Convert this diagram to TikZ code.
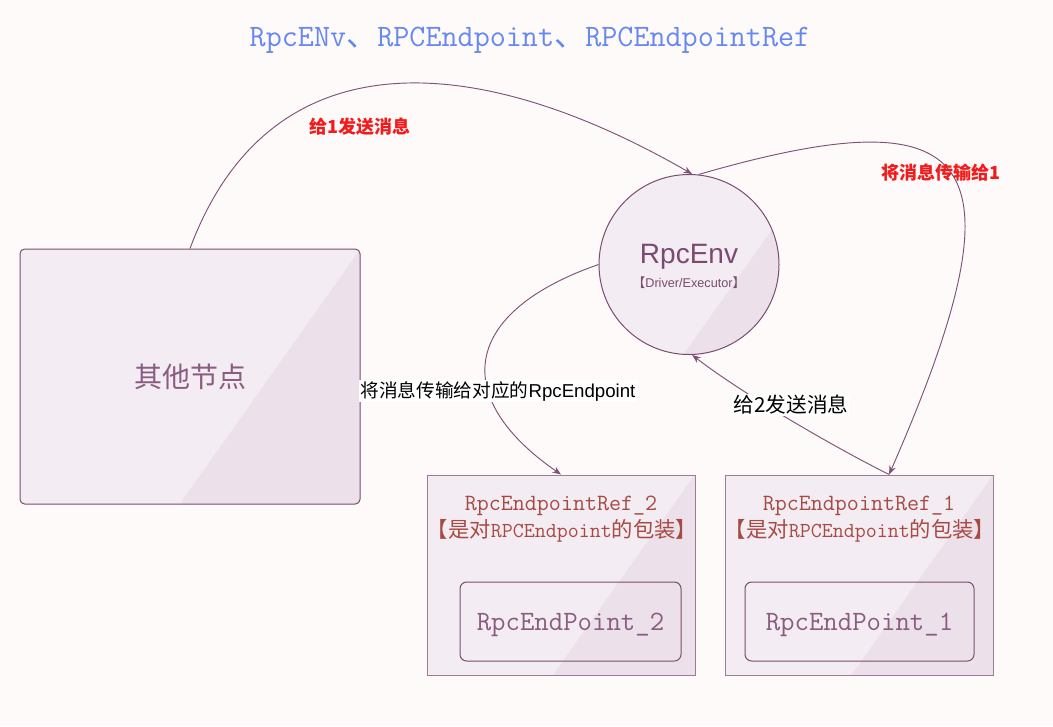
\documentclass[tikz,border=0pt]{standalone}
\usepackage{fontspec}
\newfontfamily\cjk{Noto Sans CJK SC}
\newfontfamily\arial{Liberation Sans}
\usetikzlibrary{calc}
\usetikzlibrary{arrows, arrows.meta}
\definecolor{bgcol}{HTML}{FEFAFA}
\definecolor{fillA}{HTML}{F3ECF2}
\definecolor{fillB}{HTML}{ECE1EA}
\definecolor{linecol}{HTML}{7A4C70}
\definecolor{reflinecol}{HTML}{9E7A96}
\definecolor{edgecol}{HTML}{7E5276}
\definecolor{nodetxt}{HTML}{8A5C80}
\definecolor{envtxt}{HTML}{7B4A70}
\definecolor{refred}{HTML}{A84A44}
\definecolor{labred}{HTML}{F21A1A}
\definecolor{titleblue}{HTML}{6688F2}

\begin{document}
\begin{tikzpicture}[x=0.75pt, y=-0.75pt,
    box/.style={draw=linecol, line width=0.75pt, fill=fillA,
        path picture={\fill[fillB] ($(path picture bounding box.south west)!0.47!(path picture bounding box.south east)$)
            -- ++(54.7:900pt) -- ++(900pt,0pt) -- ++(0pt,-1800pt) -- cycle;}},
    epbox/.style={draw=linecol, line width=0.75pt, rounded corners=5pt, minimum height=59.25pt,
        text depth=0pt, text=nodetxt, font=\ttfamily\fontsize{21pt}{24pt}\selectfont},
    edge/.style={draw=edgecol, line width=0.7pt, -{Stealth[length=6.5pt,width=5pt]}},
    redlab/.style={text=labred, font=\cjk\bfseries\fontsize{13.5pt}{16pt}\selectfont},
    blacklab/.style={fill=white, inner sep=1pt, text=black},
    reftxt/.style={text=refred, font=\ttfamily\fontsize{17.5pt}{20pt}\selectfont},
    refnote/.style={text=refred, font=\ttfamily\fontsize{16pt}{18pt}\selectfont}]
    % Background
    \fill[bgcol] (0,0) rectangle (1053,726);
    \useasboundingbox (0,0) rectangle (1053,726);
    % Title
    \node[text=titleblue, font=\ttfamily\fontsize{23.4pt}{27pt}\selectfont] (title) at (530,40)
        {RpcENv{\cjk 、}RPCEndpoint{\cjk 、}RPCEndpointRef};
    % Nodes
    \node[box, rounded corners=3.5pt, minimum width=255pt, minimum height=191.25pt,
        text=nodetxt, font=\cjk\fontsize{21pt}{24pt}\selectfont] (other) at (190,376.5) {其他节点};
    \node[box, circle, minimum size=135pt] (env) at (689,264.5) {};
    \node[text=envtxt, font=\arial\fontsize{21pt}{24pt}\selectfont] (envname) at (689,257) {RpcEnv};
    \node[text=envtxt, font=\arial\fontsize{9.5pt}{11pt}\selectfont] (envrole) at (689,283)
        {{\cjk 【}Driver/Executor{\cjk 】}};
    \node[box, draw=reflinecol, minimum width=201pt, minimum height=150pt] (ref2) at (561,575) {};
    \node[reftxt] (ref2name) at (561,506) {RpcEndpointRef\_2};
    \node[refnote] (ref2note) at (562,531) {{\cjk 【是对}RPCEndpoint{\cjk 的包装】}};
    \node[epbox, minimum width=165.75pt] (ep2) at (570.5,621.5) {RpcEndPoint\_2};
    \node[box, draw=reflinecol, minimum width=201pt, minimum height=150pt] (ref1) at (859.5,575) {};
    \node[reftxt] (ref1name) at (859,506) {RpcEndpointRef\_1};
    \node[refnote] (ref1note) at (860,531) {{\cjk 【是对}RPCEndpoint{\cjk 的包装】}};
    \node[epbox, minimum width=171.75pt] (ep1) at (859.5,621.5) {RpcEndPoint\_1};
    \coordinate (ref1in) at ($(ref1.north west)!0.61!(ref1.north east)$);
    % Edges
    \draw[edge] (other.north) .. controls (270,34) and (477,50) .. (env.88);
    \draw[edge] (env.84) .. controls (977,94) and (1030,153) .. (ref1in);
    \draw[edge] (env.west) .. controls (462,312) and (449,397) .. (ref2.north);
    \draw[edge] (ref1in) .. controls (830,445) and (740,392) .. (env.-88);
    % Labels
    \node[redlab] (send1) at (360,127) {给1发送消息};
    \node[redlab] (pass1) at (941,173) {将消息传输给1};
    \node[blacklab, font=\fontsize{14pt}{16pt}\selectfont] (pass2) at (498,391)
        {{\cjk 将消息传输给对应的}{\arial RpcEndpoint}};
    \node[blacklab, font=\cjk\fontsize{15.5pt}{18pt}\selectfont] (send2) at (791,405) {给2发送消息};
\end{tikzpicture}
\end{document}
